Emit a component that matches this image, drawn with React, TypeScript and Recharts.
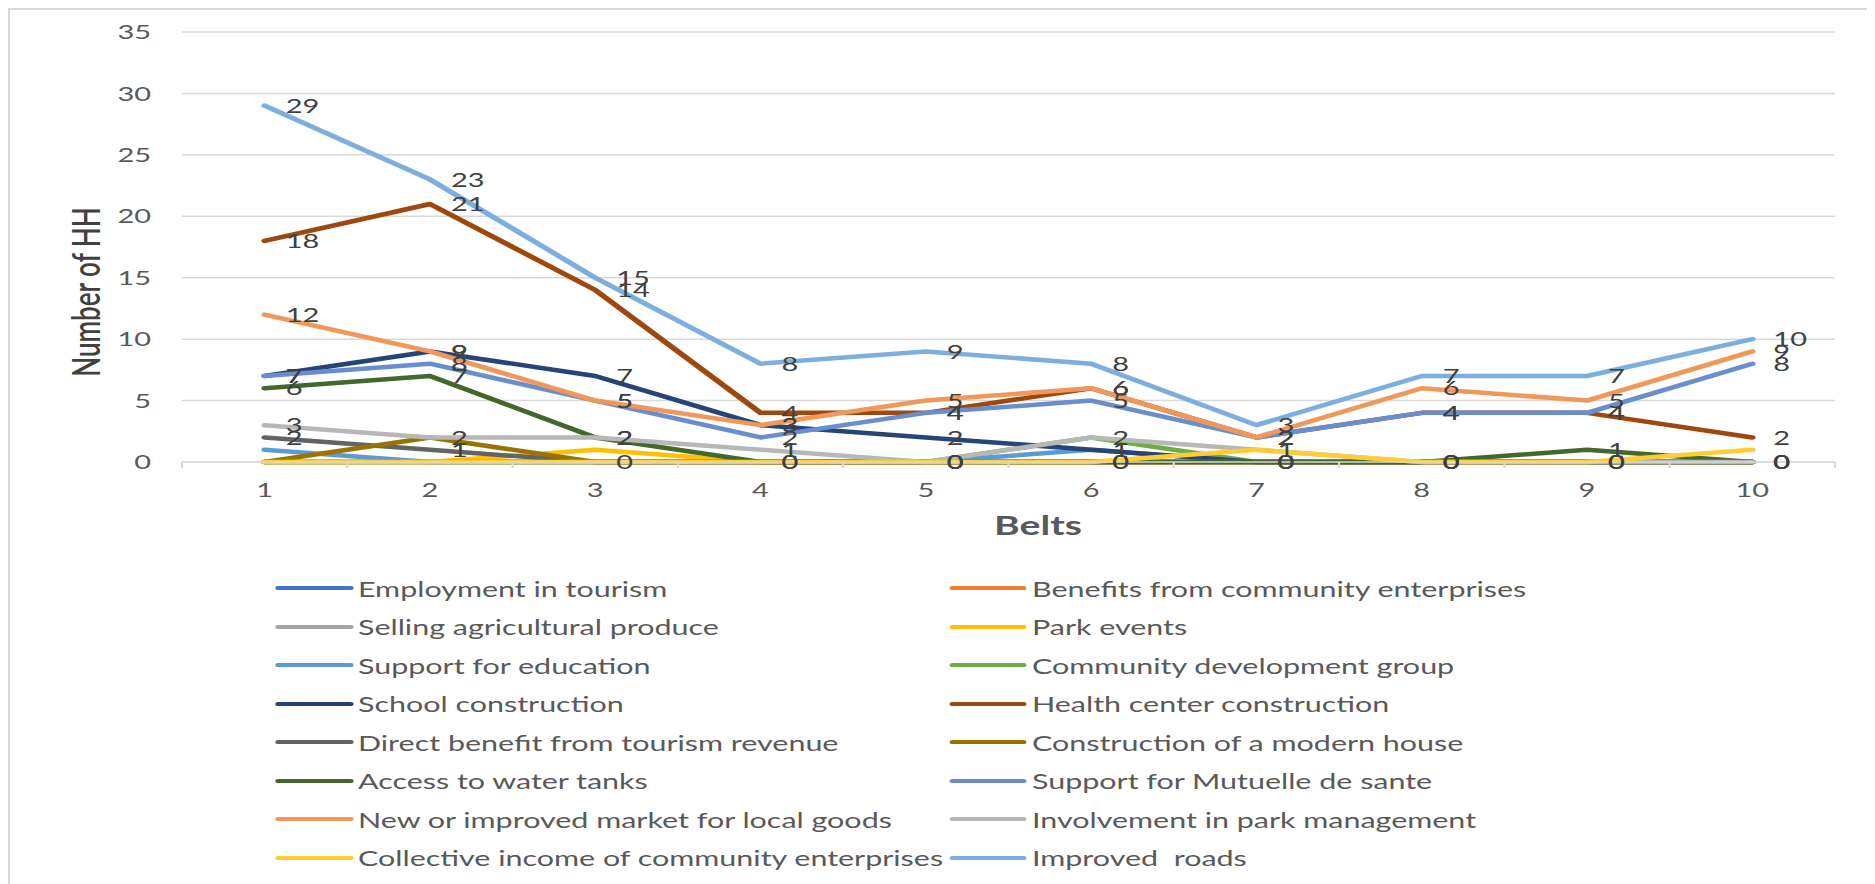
import { LineChart, Line, XAxis, YAxis, CartesianGrid, LabelList } from 'recharts'

// the reference picture is stretched sideways, so the chart is drawn narrow and scaled in x
const S = 1.45
const OUTER_W = 1866
const OUTER_H = 880
const BORDER = 2
const CW = (OUTER_W - 2 * BORDER) / S
const CH = OUTER_H - 2 * BORDER
const FONT = 'Lato, "Open Sans", sans-serif'
const TEXT = '#595959'

const belts = [1, 2, 3, 4, 5, 6, 7, 8, 9, 10]
const yTicks = [0, 5, 10, 15, 20, 25, 30, 35]

const employmentInTourism = [0, 0, 0, 0, 0, 0, 0, 0, 0, 0]
const benefitsCommunity = [0, 0, 0, 0, 0, 0, 0, 0, 0, 0]
const sellingProduce = [0, 0, 0, 0, 0, 0, 0, 0, 0, 0]
const parkEvents = [0, 0, 1, 0, 0, 0, 0, 0, 0, 0]
const supportEducation = [1, 0, 0, 0, 0, 1, 0, 0, 0, 0]
const communityDevGroup = [0, 0, 0, 0, 0, 2, 0, 0, 0, 0]
const schoolConstruction = [7, 9, 7, 3, 2, 1, 0, 0, 0, 0]
const healthCenter = [18, 21, 14, 4, 4, 6, 2, 4, 4, 2]
const directBenefit = [2, 1, 0, 0, 0, 0, 0, 0, 0, 0]
const modernHouse = [0, 2, 0, 0, 0, 0, 0, 0, 0, 0]
const waterTanks = [6, 7, 2, 0, 0, 0, 0, 0, 1, 0]
const mutuelle = [7, 8, 5, 2, 4, 5, 2, 4, 4, 8]
const newMarket = [12, 9, 5, 3, 5, 6, 2, 6, 5, 9]
const parkManagement = [3, 2, 2, 1, 0, 2, 1, 0, 0, 0]
const collectiveIncome = [0, 0, 0, 0, 0, 0, 1, 0, 0, 1]
const improvedRoads = [29, 23, 15, 8, 9, 8, 3, 7, 7, 10]

const series = [
  { key: 's1', name: 'Employment in tourism', color: '#4472C4', values: employmentInTourism, labels: false },
  { key: 's2', name: 'Benefits from community enterprises', color: '#ED7D31', values: benefitsCommunity, labels: false },
  { key: 's3', name: 'Selling agricultural produce', color: '#A5A5A5', values: sellingProduce, labels: false },
  { key: 's4', name: 'Park events', color: '#FFC000', values: parkEvents, labels: false },
  { key: 's5', name: 'Support for education', color: '#5B9BD5', values: supportEducation, labels: false },
  { key: 's6', name: 'Community development group', color: '#70AD47', values: communityDevGroup, labels: false },
  { key: 's7', name: 'School construction', color: '#264478', values: schoolConstruction, labels: true },
  { key: 's8', name: 'Health center construction', color: '#9E480E', values: healthCenter, labels: true },
  { key: 's9', name: 'Direct benefit from tourism revenue', color: '#636363', values: directBenefit, labels: true },
  { key: 's10', name: 'Construction of a modern house', color: '#997300', values: modernHouse, labels: false },
  { key: 's11', name: 'Access to water tanks', color: '#43682B', values: waterTanks, labels: true },
  { key: 's12', name: 'Support for Mutuelle de sante', color: '#698ED0', values: mutuelle, labels: true },
  { key: 's13', name: 'New or improved market for local goods', color: '#F1975A', values: newMarket, labels: true },
  { key: 's14', name: 'Involvement in park management', color: '#B7B7B7', values: parkManagement, labels: true },
  { key: 's15', name: 'Collective income of community enterprises', color: '#FFCD33', values: collectiveIncome, labels: false },
  { key: 's16', name: 'Improved  roads', color: '#7CAFDD', values: improvedRoads, labels: true },
]

const data = belts.map((b, i) => {
  const row: Record<string, number> = { belt: b }
  series.forEach(s => { row[s.key] = s.values[i] })
  return row
})

// labels sit on the belts, tick marks sit between them
const xTicks = [belts[0] - 0.5, ...belts.flatMap(b => [b, b + 0.5])]

// page coords -> coords inside the scaled box
const px = (x: number) => (x - 8 - BORDER) / S
const py = (y: number) => y - 8 - BORDER

const plotLeft = px(182)
const plotRight = px(1835)
const plotTop = py(32)
const plotBottom = py(462)

function XTick(props: any) {
  const { x, y, payload } = props
  const v = payload.value
  if (Number.isInteger(v)) {
    return (
      <text x={x} y={y} dy="0.71em" textAnchor="middle" fill={TEXT} fontSize={20} fontFamily={FONT}>
        {v}
      </text>
    )
  }
  return <line x1={x} x2={x} y1={y - 21} y2={y - 15} stroke="#d9d9d9" strokeWidth={1.5} />
}

function ChartLegend() {
  return (
    <>
      {series.map((s, i) => {
        const col = i % 2
        const row = Math.floor(i / 2)
        const left = col === 0 ? px(276) : px(950)
        const top = py(588 + row * 38.57)
        return (
          <div key={s.key} style={{ position: 'absolute', left, top: top - 14, height: 28, display: 'flex', alignItems: 'center', whiteSpace: 'pre' }}>
            <div style={{ width: 77 / S, height: 4, borderRadius: 2, background: s.color, marginRight: 5 / S }} />
            <span style={{ fontSize: 21, color: TEXT, fontFamily: FONT }}>{s.name}</span>
          </div>
        )
      })}
    </>
  )
}

export default function App() {
  return (
    <div style={{ width: OUTER_W, height: OUTER_H, border: `${BORDER}px solid #d9d9d9`, boxSizing: 'border-box', background: '#fff', overflow: 'hidden' }}>
      <style>{'body{overflow:hidden}'}</style>
      <div style={{ position: 'relative', width: CW, height: CH, transform: `scaleX(${S})`, transformOrigin: '0 0' }}>
        <LineChart
          width={CW}
          height={CH}
          data={data}
          margin={{ top: plotTop, right: CW - plotRight, left: 0, bottom: CH - plotBottom - 40 }}
        >
          <CartesianGrid vertical={false} stroke="#d9d9d9" strokeWidth={1.5} />
          <XAxis
            dataKey="belt"
            type="number"
            domain={[0.5, 10.5]}
            ticks={xTicks}
            interval={0}
            height={40}
            tickLine={false}
            tickSize={6}
            tickMargin={15}
            axisLine={{ stroke: '#d9d9d9', strokeWidth: 1.5 }}
            tick={(p: any) => <XTick {...p} />}
          />
          <YAxis
            type="number"
            domain={[0, 35]}
            ticks={yTicks}
            width={plotLeft}
            axisLine={false}
            tickLine={false}
            tickSize={6}
            tickMargin={px(182) - px(151) - 6}
            tick={{ fill: TEXT, fontSize: 20, fontFamily: FONT }}
          />
          {series.map(s => (
            <Line
              key={s.key}
              dataKey={s.key}
              name={s.name}
              stroke={s.color}
              strokeWidth={4.5}
              strokeLinejoin="round"
              strokeLinecap="round"
              dot={false}
              activeDot={false}
              isAnimationActive={false}
            >
              {s.labels && (
                <LabelList dataKey={s.key} position="right" offset={21 / S} fill="#404040" fontSize={20} fontFamily={FONT} />
              )}
            </Line>
          ))}
        </LineChart>
        <div style={{ position: 'absolute', left: px(86), top: py(292), transform: 'translate(-50%, -50%) rotate(-90deg)', whiteSpace: 'nowrap', fontSize: 26, fontWeight: 600, color: '#404040', fontFamily: FONT }}>
          Number of HH
        </div>
        <div style={{ position: 'absolute', left: px(1038), top: py(524), transform: 'translate(-50%, -50%)', whiteSpace: 'nowrap', fontSize: 27, fontWeight: 'bold', color: TEXT, fontFamily: FONT }}>
          Belts
        </div>
        <ChartLegend />
      </div>
    </div>
  )
}
